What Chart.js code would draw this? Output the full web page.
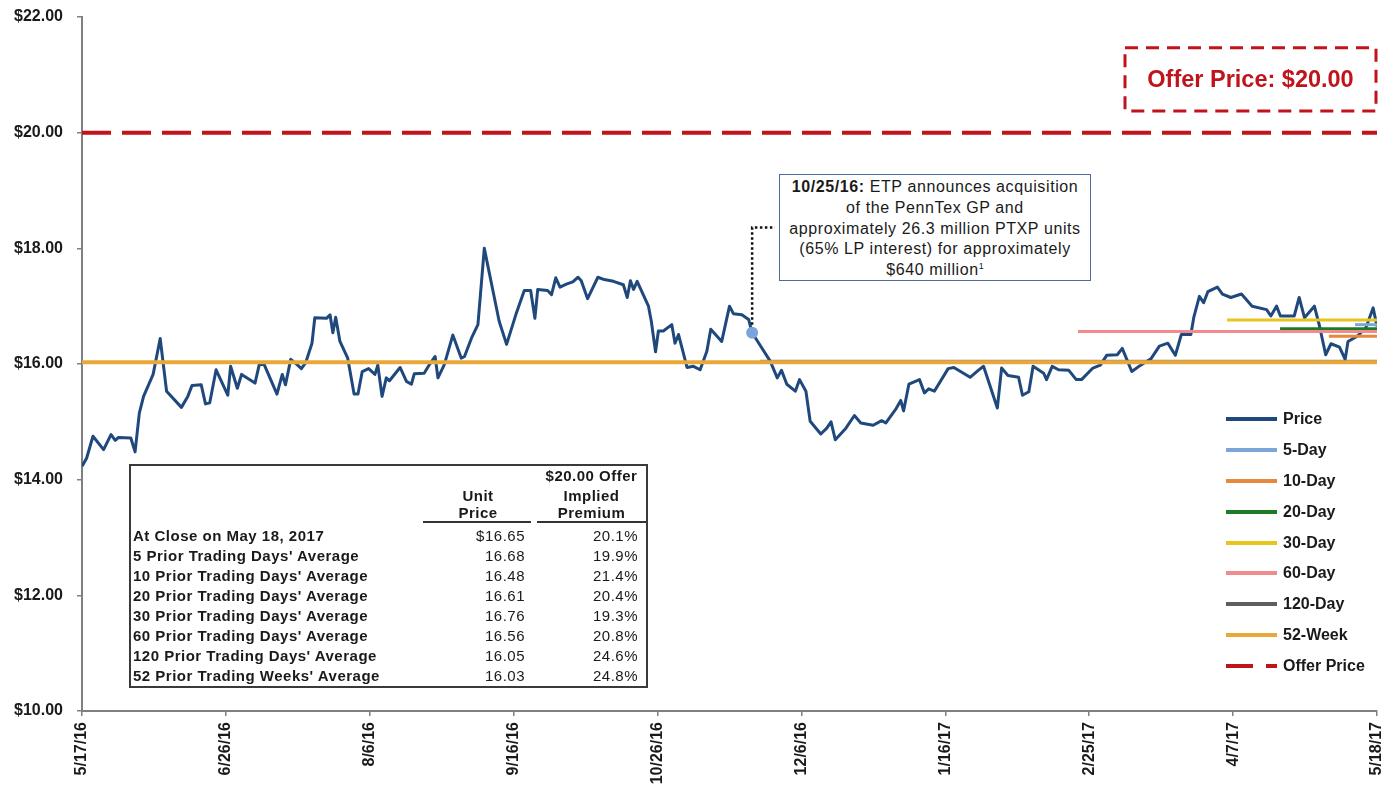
<!DOCTYPE html>
<html>
<head>
<meta charset="utf-8">
<script src="https://cdn.jsdelivr.net/npm/chart.js@4.4.0/dist/chart.umd.min.js"></script>
<style>
html,body{margin:0;padding:0;background:#fff;}
#wrap{position:relative;width:1396px;height:787px;overflow:hidden;font-family:"Liberation Sans",Arial,Helvetica,sans-serif;color:#1a1a1a;}
#c{position:absolute;left:0;top:0;}
.abs{position:absolute;white-space:nowrap;}
#note{position:absolute;left:779px;top:174px;width:312px;height:107px;box-sizing:border-box;border:1.5px solid #4d6d9a;background:#fff;
  font-size:16px;letter-spacing:0.6px;line-height:20.8px;text-align:center;padding-top:2px;color:#1a1a1a;}
#note sup{font-size:9px;line-height:0;vertical-align:6px;letter-spacing:0;}
#offerText{position:absolute;left:1125px;top:48px;width:251px;height:63px;display:flex;align-items:center;justify-content:center;
  font-size:23.5px;font-weight:bold;color:#c0131c;}
#table{position:absolute;left:129px;top:464px;width:519px;height:224px;box-shadow:inset 0 0 0 2px #3a3a3a;background:#fff;
  font-size:15px;letter-spacing:0.5px;line-height:20px;}
#table .b{font-weight:bold;}
#legend .t{font-size:16px;font-weight:bold;line-height:20px;}
</style>
</head>
<body>
<div id="wrap">
  <canvas id="c" width="1396" height="787"></canvas>
  <svg class="abs" style="left:1120px;top:43px" width="262" height="74">
    <rect x="5" y="4.7" width="251" height="63.3" fill="none" stroke="#c0131c" stroke-width="3" stroke-dasharray="13 8"></rect>
  </svg>
  <div id="offerText"></div>
  <div id="note"><b>10/25/16:</b> ETP announces acquisition<br>of the PennTex GP and<br>approximately 26.3 million PTXP units<br>(65% LP interest) for approximately<br>$640 million<sup>1</sup></div>
  <div id="legend"></div>
  <div id="table"></div>
</div>
<script>
// ---------------- DATA ----------------
const xTickLabels = ['5/17/16','6/26/16','8/6/16','9/16/16','10/26/16','12/6/16','1/16/17','2/25/17','4/7/17','5/18/17'];

// price: days since 5/17/16, and unit price
const priceDays = [
  0,1.3,3.1,6.1,8.2,9.4,10.3,13.8,15.0,16.2,17.4,20.1,22.1,23.9,28.1,29.9,31.1,33.7,34.9,36.1,
  37.9,41.2,42.0,43.9,45.1,48.9,50.1,51.5,55.1,56.6,57.5,59.0,60.8,62.0,63.2,65.0,65.8,69.1,70.1,70.9,
  71.7,72.9,75.1,76.9,78.0,79.2,81.0,82.8,83.6,84.8,86.0,86.9,89.9,91.7,93.1,93.9,96.7,98.2,99.8,100.6,
  102.4,104.8,107.2,108.1,110.1,111.9,113.7,117.9,120.0,122.6,125.0,126.8,128.0,128.8,131.6,132.7,133.9,135.1,136.9,138.7,
  140.2,141.1,142.9,145.8,147.6,150.2,153.0,154.1,155.0,155.9,156.9,160.1,160.9,162.1,162.9,164.3,166.7,167.6,168.6,171.0,
  172.8,174.7,176.6,177.7,180.8,183.0,184.1,186.5,188.4,189.4,192.1,194.5,196.5,197.7,199.2,201.6,202.8,204.6,205.8,208.8,
  210.5,211.7,212.9,215.9,218.3,220.1,223.6,226.0,227.2,230.1,231.4,232.2,233.7,236.7,238.1,239.3,240.9,244.8,246.4,248.3,
  251.0,253.3,254.8,258.7,259.9,261.7,264.7,265.8,267.6,268.8,271.8,272.6,274.2,276.0,278.9,281.0,282.5,285.7,287.8,289.6,
  292.6,294.0,296.7,299.2,302.1,304.5,306.9,309.0,310.7,313.4,314.2,315.8,317.0,318.2,320.9,322.3,324.7,327.7,330.7,334.8,
  336.0,337.6,338.7,342.6,344.0,345.5,348.3,349.7,351.5,353.0,355.4,357.0,357.8,360.4,362.8,364.9,366.0
];
const priceValues = [
  14.23,14.37,14.75,14.52,14.78,14.68,14.73,14.72,14.48,15.15,15.44,15.82,16.44,15.53,15.25,15.44,15.63,15.64,15.31,15.33,
  15.90,15.46,15.96,15.58,15.82,15.67,15.99,15.99,15.48,15.82,15.64,16.08,15.99,15.92,16.02,16.36,16.80,16.79,16.85,16.54,
  16.81,16.39,16.10,15.48,15.48,15.87,15.92,15.82,15.98,15.44,15.76,15.71,15.94,15.70,15.65,15.83,15.84,15.99,16.13,15.76,
  15.99,16.50,16.10,16.13,16.45,16.68,18.00,16.74,16.34,16.85,17.27,17.27,16.79,17.29,17.27,17.20,17.49,17.33,17.38,17.42,
  17.50,17.44,17.13,17.50,17.46,17.43,17.37,17.15,17.44,17.29,17.43,17.00,16.74,16.21,16.57,16.57,16.68,16.36,16.51,15.94,
  15.96,15.90,16.22,16.60,16.39,17.00,16.87,16.85,16.77,16.54,16.28,16.05,15.76,15.89,15.65,15.53,15.73,15.53,15.01,14.79,
  14.89,15.00,14.69,14.89,15.11,14.98,14.94,15.02,14.98,15.23,15.37,15.19,15.65,15.73,15.50,15.57,15.53,15.92,15.94,15.87,
  15.77,15.89,15.96,15.24,15.93,15.80,15.77,15.46,15.52,15.96,15.84,15.73,15.96,15.90,15.89,15.73,15.73,15.93,15.98,16.15,
  16.16,16.27,15.87,15.98,16.09,16.31,16.36,16.15,16.51,16.51,16.80,17.17,17.06,17.25,17.33,17.21,17.15,17.21,17.00,16.94,
  16.83,17.00,16.83,16.83,17.15,16.80,17.00,16.67,16.16,16.35,16.29,16.08,16.39,16.48,16.62,16.97,16.65
];

const avgLabels    = ['5-Day','10-Day','20-Day','30-Day','60-Day','120-Day','52-Week'];
const avgValues    = [16.68, 16.48, 16.61, 16.76, 16.56, 16.05, 16.03];
const avgStartDays = [359.8, 352.4, 338.6, 323.6, 281.5, 191.6, 0];

const offerPrice = 20.00;
const closePrice = 16.65;
const eventDay = 189.4;
const eventValue = 16.54;

const tableRowLabels = ['At Close on May 18, 2017',"5 Prior Trading Days' Average","10 Prior Trading Days' Average",
  "20 Prior Trading Days' Average","30 Prior Trading Days' Average","60 Prior Trading Days' Average",
  "120 Prior Trading Days' Average","52 Prior Trading Weeks' Average"];
const tableUnitPrices = [closePrice, ...avgValues];
const tablePremiums   = [20.1, 19.9, 21.4, 20.4, 19.3, 20.8, 24.6, 24.8];

// ---------------- STYLE ----------------
const priceColor = '#1f497d';
const avgColors  = ['#7ca5d9','#e8883a','#1e7b24','#e8c51c','#f28b8e','rgba(85,85,85,0.7)','#e9a93a'];
const avgLegendColors = ['#7ca5d9','#e8883a','#1e7b24','#e8c51c','#f28b8e','#5e5e5e','#e9a93a'];
const avgWidths  = [3, 3, 3, 3, 3, 2.5, 4];
const offerColor = '#c0131c';
const axisColor  = '#808080';
const tickFont   = {family:'"Liberation Sans", Arial, sans-serif', size:16, weight:'bold'};

function parseMDY(s){ const p = s.split('/').map(Number); return Date.UTC(2000+p[2], p[0]-1, p[1]); }
const totalDays = (parseMDY(xTickLabels[xTickLabels.length-1]) - parseMDY(xTickLabels[0])) / 86400000;

// ---------------- DATASETS ----------------
const datasets = [];
datasets.push({label:'Price', data: priceDays.map((d,i)=>({x:d, y:priceValues[i]})),
  borderColor: priceColor, borderWidth: 3, pointRadius: 0, tension: 0, order: 100, borderJoinStyle:'round'});
datasets.push({label:'Offer Price', data:[{x:0,y:offerPrice},{x:totalDays,y:offerPrice}],
  borderColor: offerColor, borderWidth: 4, borderDash:[29,11], pointRadius:0, order: 90});
avgLabels.forEach((lab,i)=>{
  datasets.push({label: lab, data:[{x:avgStartDays[i],y:avgValues[i]},{x:totalDays,y:avgValues[i]}],
    borderColor: avgColors[i], borderWidth: avgWidths[i], pointRadius:0, order: 20 + (avgLabels.length - i)*8 });
});
datasets.push({label:'event', data:[{x:eventDay,y:eventValue}], showLine:false,
  pointRadius:6, pointBackgroundColor:'#7ba4dc', pointBorderColor:'#7ba4dc', pointBorderWidth:0, order: 0});

const NOTE = {left:779, top:174, height:107};

const connector = {
  id:'connector',
  afterDatasetsDraw(chart){
    const {ctx, scales:{x, y}} = chart;
    const px = x.getPixelForValue(eventDay), py = y.getPixelForValue(eventValue);
    const ty = NOTE.top + NOTE.height/2;
    ctx.save();
    ctx.strokeStyle = '#111'; ctx.lineWidth = 2.5; ctx.setLineDash([2.5,2.5]);
    ctx.beginPath(); ctx.moveTo(px, py-8); ctx.lineTo(px, ty); ctx.lineTo(NOTE.left-4, ty); ctx.stroke();
    ctx.restore();
  }
};

new Chart(document.getElementById('c').getContext('2d'), {
  type:'line',
  data:{datasets},
  plugins:[connector],
  options:{
    responsive:false, animation:false, devicePixelRatio:1,
    layout:{padding:{left:0, right:19, top:17, bottom:0}},
    plugins:{legend:{display:false}, tooltip:{enabled:false}},
    scales:{
      x:{type:'linear', min:0, max:totalDays,
        afterBuildTicks: s => { s.ticks = xTickLabels.map((_,i)=>({value: i*totalDays/(xTickLabels.length-1)})); },
        afterFit: s => { s.height = 76; s.paddingLeft = 0; s.paddingRight = 0; },
        ticks:{callback:(v,i)=>xTickLabels[i], autoSkip:false, minRotation:90, maxRotation:90, font:tickFont, color:'#1a1a1a', padding:6},
        grid:{display:true, drawOnChartArea:false, drawTicks:true, tickLength:5, color:axisColor, lineWidth:1.5},
        border:{display:true, color:axisColor, width:2}
      },
      y:{min:10, max:22,
        afterFit: s => { s.width = 82; s.paddingTop = 0; s.paddingBottom = 0; },
        ticks:{stepSize:2, callback:v=>'$'+Number(v).toFixed(2), font:tickFont, color:'#1a1a1a', padding:14},
        grid:{display:true, drawOnChartArea:false, drawTicks:true, tickLength:5, color:axisColor, lineWidth:1.5},
        border:{display:true, color:axisColor, width:2}
      }
    }
  }
});

// ---------------- OVERLAYS ----------------
document.getElementById('offerText').textContent = 'Offer Price: $' + offerPrice.toFixed(2);

// legend
const legendLabels = ['Price', ...avgLabels, 'Offer Price'];
const legendColors = [priceColor, ...avgLegendColors, offerColor];
const lg = document.getElementById('legend');
legendLabels.forEach((lab,i)=>{
  const cy = 419.3 + 30.8*i;
  const dash = lab === 'Offer Price' ? ' stroke-dasharray="27 13"' : '';
  lg.insertAdjacentHTML('beforeend',
    `<svg class="abs" style="left:1226px;top:${cy-4}px" width="51" height="8"><line x1="0" y1="4" x2="51" y2="4" stroke="${legendColors[i]}" stroke-width="4"${dash}/></svg>` +
    `<div class="abs t" style="left:1283px;top:${cy-10}px">${lab}</div>`);
});

// table
const tb = document.getElementById('table');
let h = '';
h += `<div class="abs b" style="left:402px;width:121px;text-align:center;top:2px">$${offerPrice.toFixed(2)} Offer</div>`;
h += `<div class="abs b" style="left:289px;width:120px;text-align:center;top:22px">Unit</div>`;
h += `<div class="abs b" style="left:402px;width:121px;text-align:center;top:22px">Implied</div>`;
h += `<div class="abs b" style="left:289px;width:120px;text-align:center;top:39px">Price</div>`;
h += `<div class="abs b" style="left:402px;width:121px;text-align:center;top:39px">Premium</div>`;
h += `<div class="abs" style="left:294px;width:108px;top:57px;height:2px;background:#333"></div>`;
h += `<div class="abs" style="left:408px;width:109px;top:57px;height:2px;background:#333"></div>`;
tableRowLabels.forEach((lab,i)=>{
  const top = 62.4 + 20*i;
  const up = (i===0 ? '$' : '') + tableUnitPrices[i].toFixed(2);
  h += `<div class="abs b" style="left:4px;top:${top}px">${lab}</div>`;
  h += `<div class="abs" style="right:123px;top:${top}px">${up}</div>`;
  h += `<div class="abs" style="right:10px;top:${top}px">${tablePremiums[i].toFixed(1)}%</div>`;
});
tb.innerHTML = h;
</script>
</body>
</html>
